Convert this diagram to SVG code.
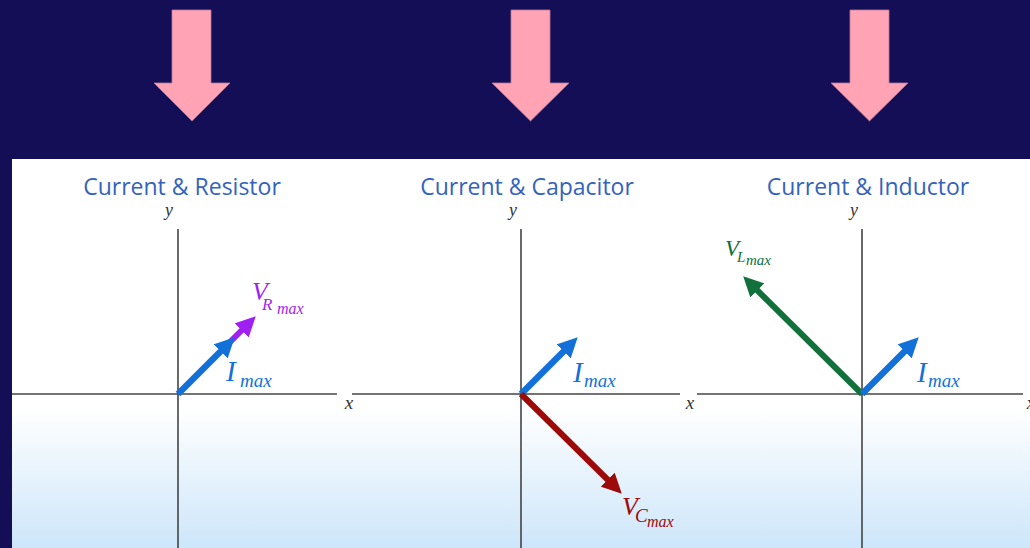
<svg xmlns="http://www.w3.org/2000/svg" width="1030" height="548" viewBox="0 0 1030 548">
<style>
.title{font-family:"Open Sans","Liberation Sans",sans-serif;font-size:23px;fill:#3463bd;text-anchor:middle}
.ax{stroke:#444;stroke-width:1.6;fill:none}
.lab{font-family:"Liberation Serif",serif;font-style:italic;fill:#333}
.m{font-family:"Liberation Serif",serif;font-style:italic}
.pink{fill:#ffa3b5;stroke:#b9789a;stroke-width:0.8}
</style>
<defs>
<linearGradient id="bg" x1="0" y1="159" x2="0" y2="548" gradientUnits="userSpaceOnUse">
<stop offset="0" stop-color="#ffffff"/>
<stop offset="0.64" stop-color="#ffffff"/>
<stop offset="1" stop-color="#cde6fa"/>
</linearGradient>
<marker id="hb" viewBox="0 0 20 20" refX="2" refY="10" markerWidth="20" markerHeight="20" markerUnits="userSpaceOnUse" orient="auto"><path d="M0,0 L20,10 L0,20 z" fill="#1370d8"/></marker>
<marker id="hp" viewBox="0 0 20 20" refX="2" refY="10" markerWidth="20" markerHeight="20" markerUnits="userSpaceOnUse" orient="auto"><path d="M0,0 L20,10 L0,20 z" fill="#a01ff2"/></marker>
<marker id="hr" viewBox="0 0 20 20" refX="2" refY="10" markerWidth="20" markerHeight="20" markerUnits="userSpaceOnUse" orient="auto"><path d="M0,0 L20,10 L0,20 z" fill="#9c0a0a"/></marker>
<marker id="hg" viewBox="0 0 20 20" refX="2" refY="10" markerWidth="20" markerHeight="20" markerUnits="userSpaceOnUse" orient="auto"><path d="M0,0 L20,10 L0,20 z" fill="#12703a"/></marker>
</defs>
<rect x="0" y="0" width="1030" height="548" fill="#130e55"/>
<g id="arrow-resistor"><polygon class="pink" points="172,10 211,10 211,83 230,83 192,121 154,83 172,83"/></g>
<g id="arrow-capacitor"><polygon class="pink" points="511,10 550,10 550,83 569,83 530.5,121 492,83 511,83"/></g>
<g id="arrow-inductor"><polygon class="pink" points="850,10 889,10 889,83 908,83 869.5,121 831,83 850,83"/></g>
<rect id="panel" x="12" y="159" width="1018" height="389" fill="url(#bg)"/>
<g id="axes">
<line class="ax" x1="12" y1="394" x2="337" y2="394"/>
<line class="ax" x1="178" y1="229" x2="178" y2="548"/>
<line class="ax" x1="352" y1="394" x2="680" y2="394"/>
<line class="ax" x1="521" y1="229" x2="521" y2="548"/>
<line class="ax" x1="697" y1="394" x2="1023" y2="394"/>
<line class="ax" x1="862" y1="229" x2="862" y2="548"/>
</g>
<g id="graph-resistor">
<text class="title" x="182" y="195">Current &amp; Resistor</text>
<text class="lab" x="169" y="216" font-size="18" text-anchor="middle">y</text>
<text class="lab" x="349" y="409" font-size="19" text-anchor="middle">x</text>
<text class="m" fill="#a01ff2"><tspan x="252" y="300" font-size="26">V</tspan><tspan x="262" y="310" font-size="17">R</tspan><tspan x="277" y="314" font-size="16">max</tspan></text>
<text class="m" fill="#1370d8"><tspan x="226" y="381" font-size="29">I</tspan><tspan x="240" y="387" font-size="19">max</tspan></text>
</g>
<g id="graph-capacitor">
<text class="title" x="527" y="195">Current &amp; Capacitor</text>
<text class="lab" x="513" y="216" font-size="18" text-anchor="middle">y</text>
<text class="lab" x="690" y="409" font-size="19" text-anchor="middle">x</text>
<text class="m" fill="#1370d8"><tspan x="573" y="382" font-size="29">I</tspan><tspan x="584" y="387" font-size="19">max</tspan></text>
<text class="m" fill="#9c0a0a"><tspan x="622" y="515" font-size="26">V</tspan><tspan x="635" y="522" font-size="19">C</tspan><tspan x="647" y="527" font-size="16">max</tspan></text>
</g>
<g id="graph-inductor">
<text class="title" x="868" y="195">Current &amp; Inductor</text>
<text class="lab" x="854" y="216" font-size="18" text-anchor="middle">y</text>
<text class="lab" x="1031" y="409" font-size="19" text-anchor="middle">x</text>
<text class="m" fill="#12703a"><tspan x="725" y="256" font-size="23">V</tspan><tspan x="737" y="262" font-size="15">L</tspan><tspan x="746" y="265" font-size="15">max</tspan></text>
<text class="m" fill="#1370d8"><tspan x="917" y="382" font-size="29">I</tspan><tspan x="928" y="387" font-size="19">max</tspan></text>
</g>
<g id="connectors" stroke-linecap="butt">
<line x1="228" y1="344" x2="243" y2="329" stroke="#a01ff2" stroke-width="6" marker-end="url(#hp)"/>
<line x1="178" y1="394" x2="222" y2="350" stroke="#1370d8" stroke-width="6.5" marker-end="url(#hb)"/>
<line x1="521" y1="394" x2="565" y2="350" stroke="#1370d8" stroke-width="6.5" marker-end="url(#hb)"/>
<line x1="521" y1="394" x2="609" y2="481" stroke="#9c0a0a" stroke-width="6" marker-end="url(#hr)"/>
<line x1="862" y1="394" x2="756" y2="289" stroke="#12703a" stroke-width="6" marker-end="url(#hg)"/>
<line x1="862" y1="394" x2="906" y2="350" stroke="#1370d8" stroke-width="6.5" marker-end="url(#hb)"/>
</g>
</svg>
